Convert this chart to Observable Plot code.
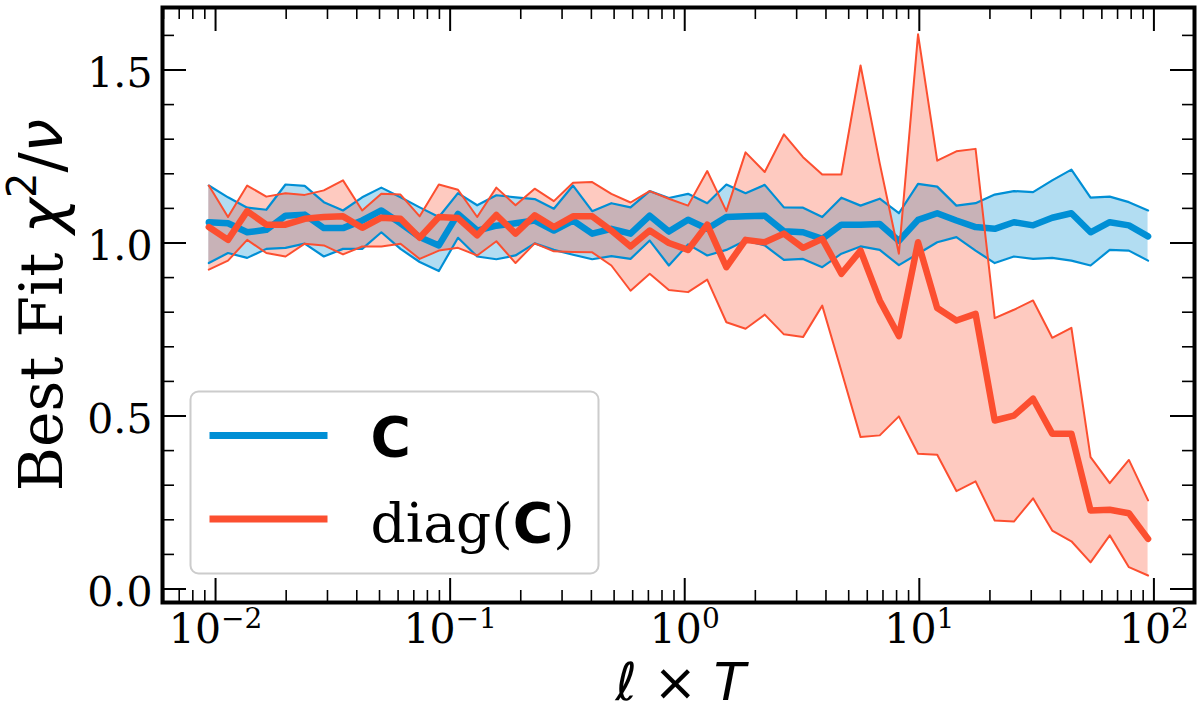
<!DOCTYPE html>
<html>
<head>
<meta charset="utf-8">
<script src="https://cdn.jsdelivr.net/npm/d3@7"></script>
<script src="https://cdn.jsdelivr.net/npm/@observablehq/plot@0.6"></script>
<style>
  body { margin: 0; background: white; }
</style>
</head>
<body>
<div id="chart"></div>
<script>
// l x T sample points
const lT = [0.00936, 0.0113, 0.01364, 0.01646, 0.01987, 0.02399, 0.02895, 0.03494, 0.04218, 0.05091,
  0.06144, 0.07416, 0.08952, 0.108, 0.1304, 0.1574, 0.19, 0.2293, 0.2768, 0.3341,
  0.4033, 0.4867, 0.5875, 0.7091, 0.8559, 1.033, 1.247, 1.505, 1.817, 2.193,
  2.647, 3.194, 3.856, 4.654, 5.617, 6.78, 8.183, 9.877, 11.92, 14.39,
  17.37, 20.96, 25.3, 30.54, 36.86, 44.49, 53.7, 64.82, 78.24, 94.43]

// full covariance C
const blueMean = [1.060, 1.057, 1.031, 1.038, 1.079, 1.082, 1.043, 1.043, 1.065, 1.094,
  1.057, 1.017, 0.993, 1.084, 1.036, 1.050, 1.057, 1.065, 1.036, 1.065,
  1.027, 1.041, 1.027, 1.079, 1.033, 1.067, 1.041, 1.075, 1.077, 1.079,
  1.034, 1.031, 1.012, 1.053, 1.053, 1.055, 1.006, 1.067, 1.086, 1.065,
  1.046, 1.041, 1.060, 1.051, 1.073, 1.086, 1.031, 1.060, 1.051, 1.019]
const blueLo = [0.942, 0.971, 0.957, 0.983, 0.986, 0.998, 0.961, 0.983, 0.983, 1.031,
  0.983, 0.945, 0.919, 1.015, 0.961, 0.953, 0.964, 0.999, 0.980, 0.966,
  0.953, 0.962, 0.954, 1.007, 0.935, 0.996, 0.964, 0.980, 1.007, 0.993,
  0.951, 0.954, 0.930, 0.969, 0.990, 0.980, 0.936, 0.969, 1.002, 1.017,
  0.978, 0.942, 0.961, 0.954, 0.957, 0.949, 0.935, 0.980, 0.978, 0.949]
const blueHi = [1.166, 1.132, 1.102, 1.096, 1.169, 1.165, 1.118, 1.094, 1.132, 1.160,
  1.132, 1.103, 1.075, 1.144, 1.109, 1.138, 1.132, 1.127, 1.099, 1.166,
  1.092, 1.115, 1.103, 1.150, 1.130, 1.142, 1.115, 1.169, 1.144, 1.168,
  1.103, 1.102, 1.075, 1.131, 1.108, 1.128, 1.086, 1.171, 1.163, 1.108,
  1.115, 1.140, 1.150, 1.147, 1.181, 1.212, 1.131, 1.134, 1.118, 1.094]

// diagonal only, diag(C)
const redMean = [1.046, 1.009, 1.092, 1.053, 1.053, 1.070, 1.075, 1.077, 1.044, 1.073,
  1.070, 1.015, 1.075, 1.072, 1.022, 1.081, 1.027, 1.080, 1.046, 1.077,
  1.077, 1.036, 0.990, 1.036, 1.000, 0.980, 1.053, 0.930, 1.009, 1.002,
  1.027, 0.986, 1.012, 0.911, 0.978, 0.834, 0.731, 1.002, 0.812, 0.776,
  0.795, 0.487, 0.501, 0.550, 0.449, 0.449, 0.227, 0.229, 0.219, 0.145]
const redLo = [0.923, 0.949, 1.009, 0.971, 0.961, 0.998, 0.993, 0.967, 0.990, 0.990,
  0.998, 0.954, 0.978, 0.986, 0.964, 1.005, 0.942, 0.999, 0.976, 0.974,
  0.973, 0.935, 0.862, 0.911, 0.864, 0.858, 0.894, 0.771, 0.752, 0.793,
  0.736, 0.728, 0.819, 0.630, 0.439, 0.444, 0.499, 0.391, 0.388, 0.283,
  0.311, 0.198, 0.195, 0.262, 0.169, 0.138, 0.077, 0.155, 0.063, 0.039]
const redHi = [1.166, 1.075, 1.166, 1.134, 1.144, 1.139, 1.152, 1.181, 1.094, 1.142,
  1.140, 1.077, 1.169, 1.154, 1.075, 1.160, 1.109, 1.157, 1.121, 1.174,
  1.176, 1.142, 1.117, 1.150, 1.128, 1.108, 1.208, 1.092, 1.262, 1.205,
  1.314, 1.248, 1.198, 1.198, 1.513, 1.230, 0.969, 1.603, 1.238, 1.265,
  1.272, 0.783, 0.807, 0.834, 0.726, 0.755, 0.381, 0.306, 0.373, 0.256]

const xMajor = [0.01, 0.1, 1, 10, 100]
const xExp = ['−2', '−1', '0', '1', '2']
const yMajor = [0, 0.5, 1.0, 1.5]
const yMinor = [0.1, 0.2, 0.3, 0.4, 0.6, 0.7, 0.8, 0.9, 1.1, 1.2, 1.3, 1.4, 1.6]
const legendLabels = ['C', 'diag(C)']

const blue = '#008fd5'
const red = '#fc4f30'
const serif = 'DejaVu Serif'
const sans = 'DejaVu Sans'

const W = 1200, H = 712
const ML = 162, MR = 6, MT = 7, MB = 110
const innerW = W - ML - MR, innerH = H - MT - MB
const xDomain = [0.005941, 148.95]

const xMinor = []
for (let k = -3; k <= 2; k++) {
  for (let m = 2; m <= 9; m++) {
    const v = m * Math.pow(10, k)
    if (v > xDomain[0] && v < xDomain[1]) xMinor.push(v)
  }
}

const rows = lT.map((x, i) => ({
  x, bm: blueMean[i], bl: blueLo[i], bh: blueHi[i],
  rm: redMean[i], rl: redLo[i], rh: redHi[i]
}))

let chart = Plot.plot({
  width: W,
  height: H,
  marginLeft: ML,
  marginRight: MR,
  marginTop: MT,
  marginBottom: MB,
  x: { type: 'log', domain: xDomain, axis: null },
  y: { domain: [-0.039, 1.6806], axis: null },
  style: { background: 'white', fontFamily: serif },
  marks: [
    // bands
    Plot.areaY(rows, { x: 'x', y1: 'bl', y2: 'bh', fill: blue, fillOpacity: 0.3 }),
    Plot.areaY(rows, { x: 'x', y1: 'rl', y2: 'rh', fill: red, fillOpacity: 0.3 }),
    Plot.line(rows, { x: 'x', y: 'bl', stroke: blue, strokeWidth: 2.2 }),
    Plot.line(rows, { x: 'x', y: 'bh', stroke: blue, strokeWidth: 2.2 }),
    Plot.line(rows, { x: 'x', y: 'bm', stroke: blue, strokeWidth: 6.5 }),
    Plot.line(rows, { x: 'x', y: 'rl', stroke: red, strokeWidth: 2 }),
    Plot.line(rows, { x: 'x', y: 'rh', stroke: red, strokeWidth: 2 }),
    Plot.line(rows, { x: 'x', y: 'rm', stroke: red, strokeWidth: 6.5 }),

    // inward ticks on all four sides
    Plot.tickX(xMajor, { x: d => d, insetTop: innerH - 24, strokeWidth: 2 }),
    Plot.tickX(xMajor, { x: d => d, insetBottom: innerH - 24, strokeWidth: 2 }),
    Plot.tickX(xMinor, { x: d => d, insetTop: innerH - 12, strokeWidth: 1.6 }),
    Plot.tickX(xMinor, { x: d => d, insetBottom: innerH - 12, strokeWidth: 1.6 }),
    Plot.tickY(yMajor, { y: d => d, insetRight: innerW - 24, strokeWidth: 2 }),
    Plot.tickY(yMajor, { y: d => d, insetLeft: innerW - 24, strokeWidth: 2 }),
    Plot.tickY(yMinor, { y: d => d, insetRight: innerW - 12, strokeWidth: 1.6 }),
    Plot.tickY(yMinor, { y: d => d, insetLeft: innerW - 12, strokeWidth: 1.6 }),
    Plot.frame({ stroke: 'black', strokeWidth: 4 }),

    // tick labels
    Plot.text(xMajor, {
      x: d => d, text: (d, i) => '10^' + xExp[i], frameAnchor: 'bottom',
      lineAnchor: 'bottom', dy: 40, fontSize: 41, fill: 'black'
    }),
    Plot.text(yMajor, {
      y: d => d, text: d => d.toFixed(1), frameAnchor: 'left', textAnchor: 'end',
      dx: -10, dy: 4, fontSize: 41, fill: 'black'
    }),

    // axis titles
    Plot.text(['Best Fit χ2/ν'], {
      text: d => d, frameAnchor: 'left', textAnchor: 'middle', dx: -101, rotate: -90,
      lineAnchor: 'bottom', fontSize: 60, fill: 'black'
    }),
    Plot.text(['ℓ × T'], {
      text: d => d, frameAnchor: 'bottom', textAnchor: 'middle', dx: 2, dy: 97,
      lineAnchor: 'bottom', fontSize: 52, fill: 'black'
    }),

    // legend
    Plot.frame({
      insetLeft: 28, insetRight: 596, insetTop: 384, insetBottom: 29,
      rx: 8, stroke: '#cccccc', strokeWidth: 2, fill: 'white', fillOpacity: 0.8
    }),
    Plot.frame({ insetLeft: 47, insetRight: 867, insetTop: 424.5, insetBottom: 163.5, fill: blue, stroke: 'none' }),
    Plot.frame({ insetLeft: 47, insetRight: 867, insetTop: 508, insetBottom: 80, fill: red, stroke: 'none' }),
    Plot.text([legendLabels[0]], {
      text: d => d, frameAnchor: 'top-left', textAnchor: 'start', lineAnchor: 'bottom',
      dx: 208, dy: 448, fontSize: 55, fill: 'black'
    }),
    Plot.text([legendLabels[1]], {
      text: d => d, frameAnchor: 'top-left', textAnchor: 'start', lineAnchor: 'bottom',
      dx: 208, dy: 534.5, fontSize: 55, fill: 'black'
    })
  ]
})

// mixed fonts / superscripts inside single text elements
function rich(el, parts) {
  el.textContent = ''
  for (const p of parts) {
    const t = d3.select(el).append('tspan').text(p.t)
    if (p.f) t.attr('font-family', p.f)
    if (p.s) t.attr('font-size', p.s)
    if (p.i) t.attr('font-style', 'italic')
    if (p.b) t.attr('font-weight', 'bold')
    if (p.dy) t.attr('dy', p.dy)
  }
}

d3.select(chart).selectAll('text').each(function () {
  const s = this.textContent
  if (s.startsWith('10^')) {
    rich(this, [{ t: '10' }, { t: s.slice(3), s: 28, dy: -15 }])
  } else if (s === 'Best Fit χ2/ν') {
    rich(this, [
      { t: 'Best Fit ' },
      { t: 'χ', f: sans, i: true },
      { t: '2', f: sans, s: 40, dy: -26 },
      { t: '/', f: sans, dy: 26 },
      { t: 'ν', f: sans, i: true }
    ])
  } else if (s === 'ℓ × T') {
    rich(this, [
      { t: 'ℓ', f: sans, i: true },
      { t: ' × ', f: sans },
      { t: 'T', f: sans, i: true }
    ])
  } else if (s === 'C') {
    rich(this, [{ t: 'C', f: sans, b: true }])
  } else if (s === 'diag(C)') {
    rich(this, [{ t: 'diag(' }, { t: 'C', f: sans, b: true }, { t: ')' }])
  }
})

d3.select('#chart').append(() => chart)
</script>
</body>
</html>
